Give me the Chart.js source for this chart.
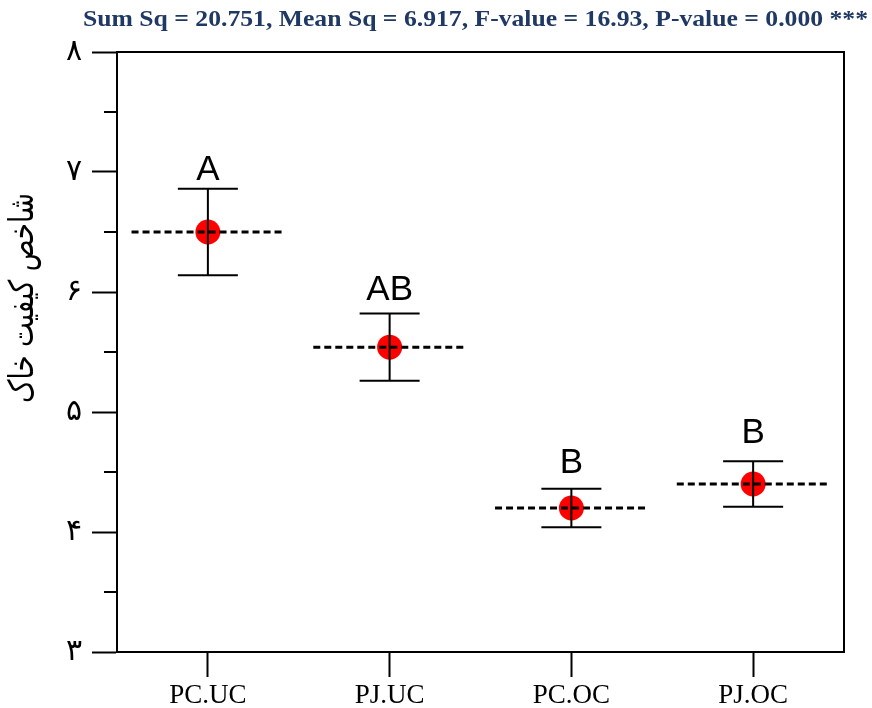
<!DOCTYPE html>
<html>
<head>
<meta charset="utf-8">
<script src="https://cdn.jsdelivr.net/npm/chart.js@4"></script>
<style>
  body { margin: 0; background: #fff; }
  #wrap { width: 872px; height: 708px; }
</style>
</head>
<body>
<div id="wrap"><canvas id="chart" width="872" height="708"></canvas></div>
<script>
const categories = ['PC.UC', 'PJ.UC', 'PC.OC', 'PJ.OC'];
const means = [6.50, 5.54, 4.20, 4.40];
const errors = [0.36, 0.28, 0.16, 0.19];
const letters = ['A', 'AB', 'B', 'B'];
const letterY = [6.93, 5.93, 4.49, 4.74];
const minorTicks = [3.5, 4.5, 5.5, 6.5, 7.5];
const titleText = 'Sum Sq = 20.751, Mean Sq = 6.917, F-value = 16.93, P-value = 0.000 ***';
const yTitle = 'شاخص کیفیت خاک';

const persian = '۰۱۲۳۴۵۶۷۸۹';
const toPersian = v => String(v).replace(/\d/g, d => persian[d]);

// draw text squeezed to a given width
const fitText = (ctx, text, x, y, width) => {
    const w = ctx.measureText(text).width;
    ctx.save();
    ctx.translate(x, y);
    ctx.scale(width / w, 1);
    ctx.fillText(text, 0, 0);
    ctx.restore();
};

// error bars, dashed mean lines, letters, frame and titles
const overlay = {
    id: 'overlay',
    afterDatasetsDraw(chart) {
        const { ctx, chartArea, scales: { x, y } } = chart;
        const band = x.width / categories.length;
        ctx.save();
        means.forEach((m, i) => {
            const px = x.getPixelForValue(i);
            const py = y.getPixelForValue(m);
            // dashed mean line
            ctx.strokeStyle = '#000';
            ctx.lineWidth = 3;
            ctx.setLineDash([7, 4]);
            ctx.beginPath();
            ctx.moveTo(px - band * 0.42, py);
            ctx.lineTo(px + band * 0.42, py);
            ctx.stroke();
            ctx.setLineDash([]);
            // error bar
            const top = y.getPixelForValue(m + errors[i]);
            const bot = y.getPixelForValue(m - errors[i]);
            ctx.lineWidth = 2;
            ctx.beginPath();
            ctx.moveTo(px, top); ctx.lineTo(px, bot);
            ctx.moveTo(px - 30, top); ctx.lineTo(px + 30, top);
            ctx.moveTo(px - 30, bot); ctx.lineTo(px + 30, bot);
            ctx.stroke();
            // group letter
            ctx.fillStyle = '#000';
            ctx.font = '35px "Liberation Sans", Arial, sans-serif';
            ctx.textAlign = 'center';
            ctx.textBaseline = 'alphabetic';
            ctx.fillText(letters[i], px, y.getPixelForValue(letterY[i]));
        });
        // frame
        ctx.lineWidth = 2;
        ctx.strokeRect(chartArea.left, chartArea.top, chartArea.right - chartArea.left, chartArea.bottom - chartArea.top);
        // minor ticks
        minorTicks.forEach(v => {
            const py = y.getPixelForValue(v);
            ctx.beginPath();
            ctx.moveTo(chartArea.left - 13, py);
            ctx.lineTo(chartArea.left, py);
            ctx.stroke();
        });
        // y axis title
        ctx.save();
        ctx.fillStyle = '#000';
        ctx.font = '34px "DejaVu Sans", sans-serif';
        ctx.textAlign = 'center';
        ctx.textBaseline = 'middle';
        ctx.translate(24, 298);
        ctx.rotate(-Math.PI / 2);
        fitText(ctx, yTitle, 0, 0, 210);
        ctx.restore();
        // title
        ctx.fillStyle = '#1f3864';
        ctx.font = 'bold 24px "Liberation Serif", "Times New Roman", serif';
        ctx.textAlign = 'left';
        ctx.textBaseline = 'middle';
        fitText(ctx, titleText, 83, 20, 785);
        ctx.restore();
    }
};

new Chart(document.getElementById('chart'), {
    type: 'line',
    data: {
        labels: categories,
        datasets: [{
            data: means,
            showLine: false,
            pointRadius: 12.5,
            pointHoverRadius: 12.5,
            pointBackgroundColor: '#ff0000',
            pointBorderWidth: 0,
            borderColor: '#ff0000'
        }]
    },
    options: {
        responsive: false,
        animation: false,
        layout: { padding: { top: 52, right: 28, left: 0, bottom: 0 } },
        plugins: { legend: { display: false }, tooltip: { enabled: false } },
        scales: {
            x: {
                type: 'category',
                offset: true,
                grid: { drawOnChartArea: false, tickLength: 25, tickColor: '#000', tickWidth: 2, offset: false },
                border: { display: true, color: '#000', width: 2 },
                ticks: {
                    color: '#000',
                    padding: 3,
                    maxRotation: 0,
                    font: { family: '"Liberation Serif", "Times New Roman", serif', size: 27 }
                },
                afterFit(scale) { scale.height = 56; }
            },
            y: {
                min: 3,
                max: 8,
                grid: { drawOnChartArea: false, tickLength: 25, tickColor: '#000', tickWidth: 2 },
                border: { display: true, color: '#000', width: 2 },
                ticks: {
                    stepSize: 1,
                    color: '#000',
                    padding: 10,
                    font: { family: '"DejaVu Sans", sans-serif', size: 30 },
                    callback: v => toPersian(v)
                },
                afterFit(scale) { scale.width = 117; }
            }
        }
    },
    plugins: [overlay]
});
</script>
</body>
</html>
